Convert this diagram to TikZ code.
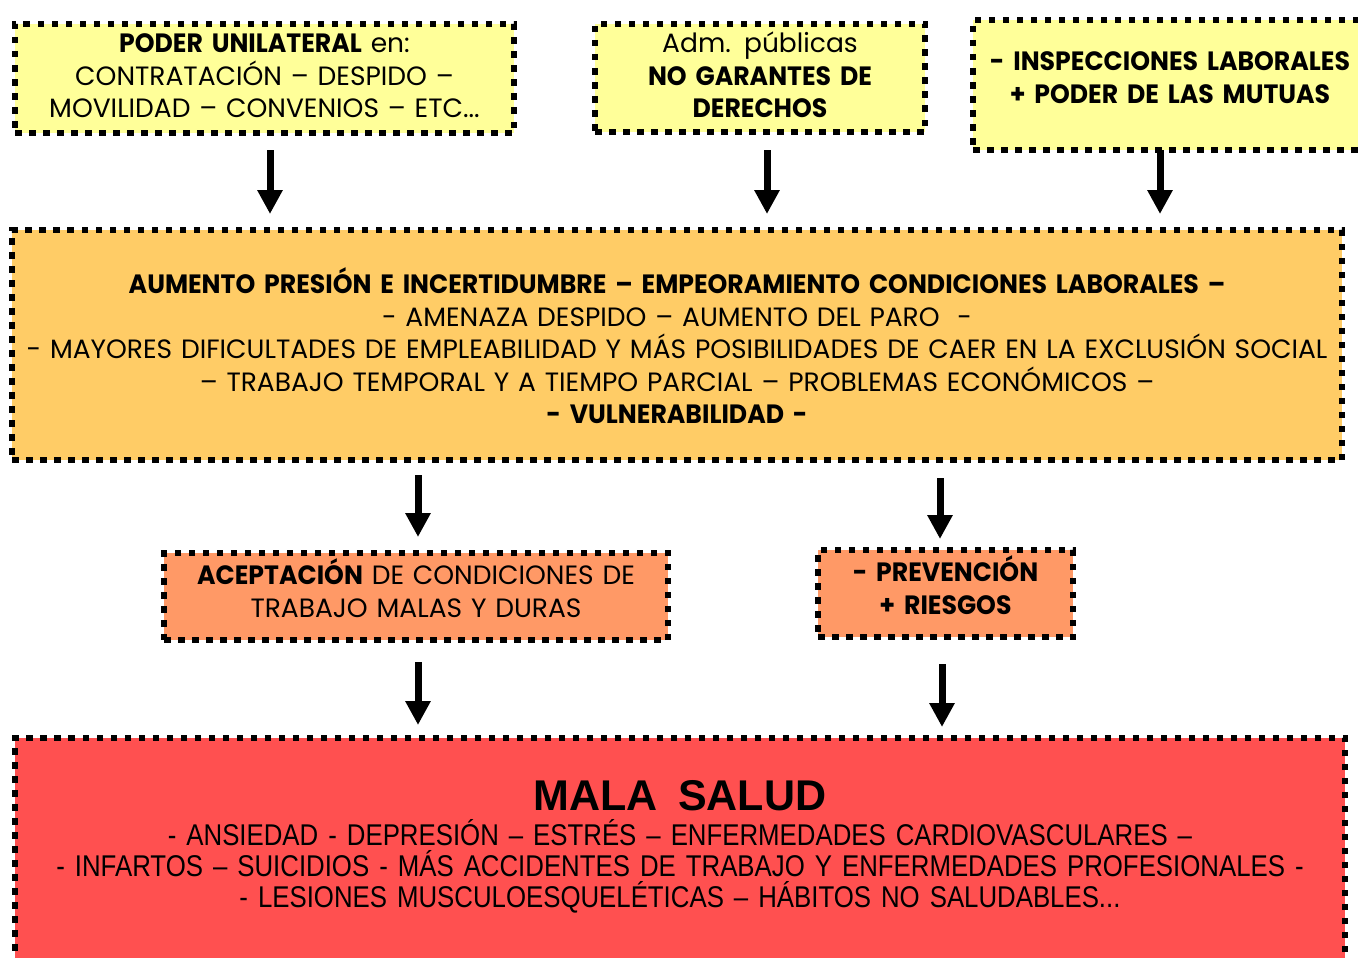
\documentclass[tikz,border=0pt]{standalone}
\usepackage{fontspec}
\setmainfont{Poppins}[BoldFeatures={FakeStretch=0.95}]
\newfontfamily\arialfont[FakeStretch=0.86]{Liberation Sans}
\newfontfamily\arialbold{Liberation Sans Bold}
\usetikzlibrary{arrows.meta}

\definecolor{amarillo}{HTML}{FFFF99}
\definecolor{naranja}{HTML}{FFCC66}
\definecolor{salmon}{HTML}{FF9966}
\definecolor{rojo}{HTML}{FF5050}

\tikzset{
  caja/.style={draw, line width=6pt, dash pattern=on 6.5pt off 7.5pt, anchor=north west,
    inner sep=0pt, outer sep=0pt, align=center, font=\fontsize{26.5}{32.5}\selectfont},
  flecha/.style={line width=7pt, -{Triangle[width=24pt,length=24pt]}}
}

\begin{document}
\begin{tikzpicture}[x=1pt,y=-1pt]
  \useasboundingbox (0,0) rectangle (1358,958);

  % causas
  \node[caja, fill=amarillo, text width=499pt, text height=28.5pt, text depth=80.5pt] (poder) at (15,24)
    {\textbf{PODER UNILATERAL} en:\\CONTRATACIÓN – DESPIDO –\\MOVILIDAD – CONVENIOS – ETC...};
  \node[caja, fill=amarillo, text width=330pt, text height=28.5pt, text depth=79.5pt] (adm) at (595,24)
    {Adm. públicas\\\textbf{NO GARANTES DE}\\\textbf{DERECHOS}};
  \node[caja, fill=amarillo, text width=394pt, text height=50.5pt, text depth=79.5pt] (insp) at (973,20)
    {\textbf{- INSPECCIONES LABORALES}\\\textbf{+ PODER DE LAS MUTUAS}};

  % efecto central
  \node[caja, fill=naranja, text width=1330pt, text height=63.5pt, text depth=166.5pt] (presion) at (12,230)
    {\textbf{AUMENTO PRESIÓN E INCERTIDUMBRE – EMPEORAMIENTO CONDICIONES LABORALES –}\\
     - AMENAZA DESPIDO – AUMENTO DEL PARO\ \ -\\
     - MAYORES DIFICULTADES DE EMPLEABILIDAD Y MÁS POSIBILIDADES DE CAER EN LA EXCLUSIÓN SOCIAL\\
     – TRABAJO TEMPORAL Y A TIEMPO PARCIAL – PROBLEMAS ECONÓMICOS –\\
     \textbf{- VULNERABILIDAD -}};

  \node[caja, fill=salmon, text width=504pt, text height=31.5pt, text depth=55.5pt] (acept) at (164,553)
    {\textbf{ACEPTACIÓN} DE CONDICIONES DE\\TRABAJO MALAS Y DURAS};
  \node[caja, fill=salmon, text width=255pt, text height=31.5pt, text depth=55.5pt] (prev) at (818,550)
    {\textbf{- PREVENCIÓN}\\\textbf{+ RIESGOS}};

  % consecuencia
  \node[caja, fill=rojo, text width=1330pt, text height=72pt, text depth=170pt,
    font=\arialfont\fontsize{30}{31}\selectfont] (salud) at (15,738)
    {{\arialbold\fontsize{43}{43}\selectfont MALA\ \ SALUD}\\[4pt]
     - ANSIEDAD - DEPRESIÓN – ESTRÉS – ENFERMEDADES CARDIOVASCULARES –\\
     - INFARTOS – SUICIDIOS - MÁS ACCIDENTES DE TRABAJO Y ENFERMEDADES PROFESIONALES -\\
     - LESIONES MUSCULOESQUELÉTICAS – HÁBITOS NO SALUDABLES...};

  \draw[flecha] ([shift={(5.5,17)}]poder.south) -- ([shift={(5.5,-16)}]poder.south |- presion.north);
  \draw[flecha] ([shift={(7,18)}]adm.south) -- ([shift={(7,-16)}]adm.south |- presion.north);
  \draw[flecha] ([shift={(-10,0)}]insp.south) -- ([shift={(-10,-16)}]insp.south |- presion.north);

  \draw[flecha] ([shift={(2,15)}]acept.north |- presion.south) -- ([shift={(2,-16)}]acept.north);
  \draw[flecha] ([shift={(-5.5,18)}]prev.north |- presion.south) -- ([shift={(-5.5,-11)}]prev.north);

  \draw[flecha] ([shift={(2,22)}]acept.south) -- ([shift={(2,-13)}]acept.south |- salud.north);
  \draw[flecha] ([shift={(-3.5,27)}]prev.south) -- ([shift={(-3.5,-11)}]prev.south |- salud.north);
\end{tikzpicture}
\end{document}
